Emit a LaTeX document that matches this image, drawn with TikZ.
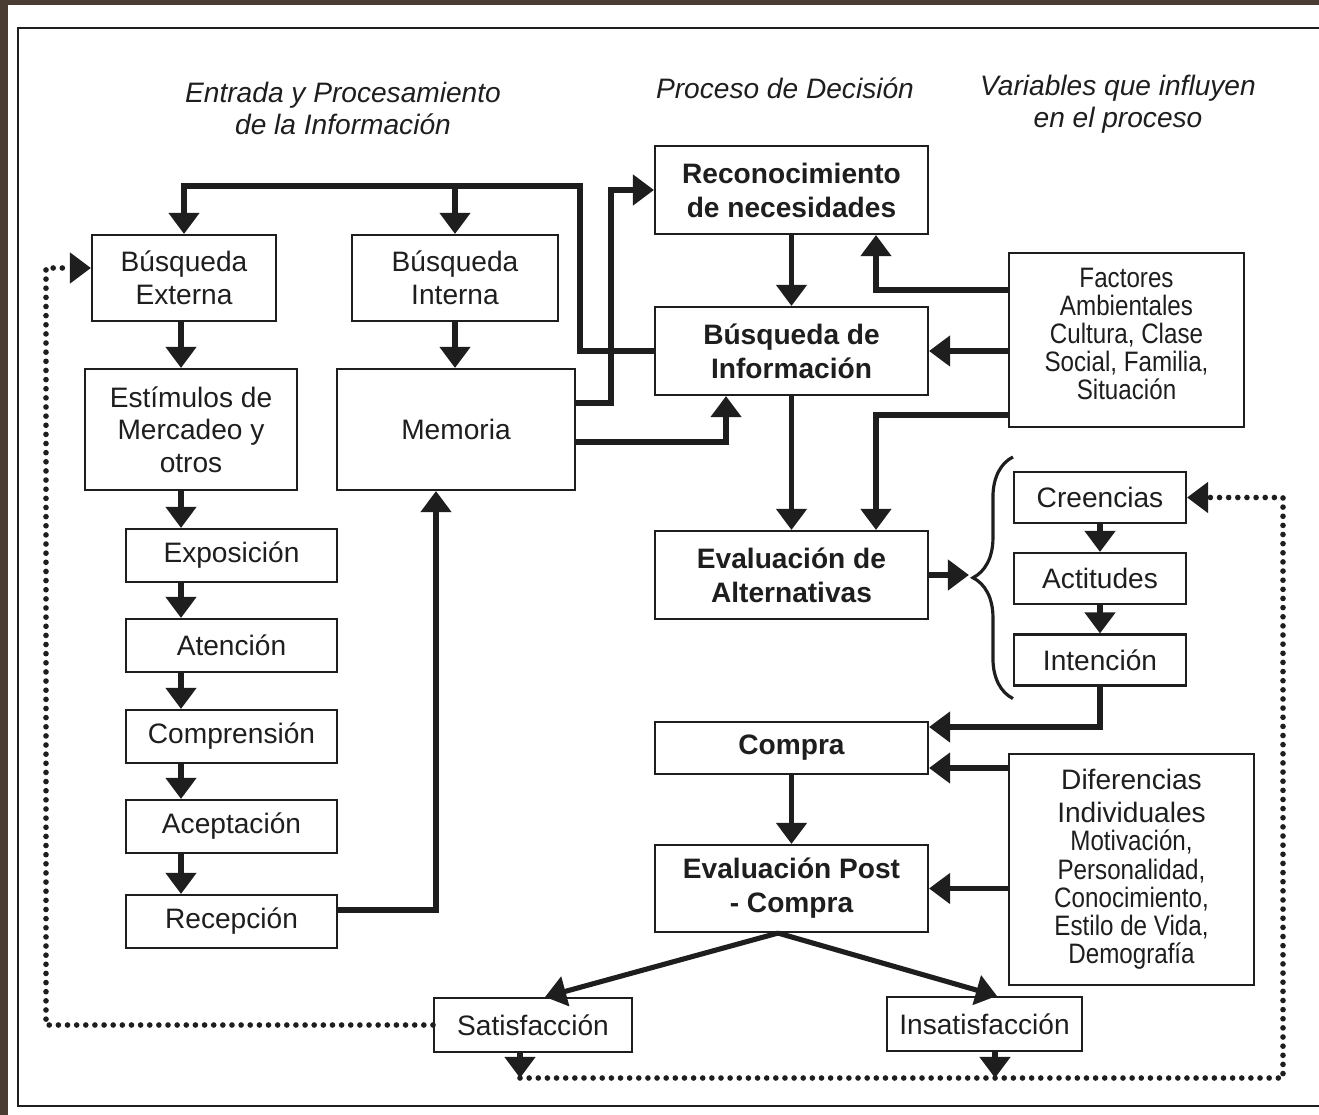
\documentclass[tikz,border=0pt]{standalone}
\usepackage{fontspec}
\setmainfont{Liberation Sans}
\newfontfamily\narrowfont{Liberation Sans}[FakeStretch=0.86]
\usetikzlibrary{arrows.meta,decorations.pathreplacing}
\definecolor{ink}{RGB}{30,30,30}
\definecolor{bark}{RGB}{74,60,50}

\begin{document}
\begin{tikzpicture}[x=0.02cm, y=-0.02cm,
        box/.style={draw=ink, line width=1.2pt, fill=white, align=center, inner sep=0pt,
            text=ink, font={\fontsize{16}{18.6}\selectfont}},
        bbox/.style={box, font={\fontsize{16}{19.3}\selectfont\bfseries}},
        heading/.style={align=center, text=ink, font={\fontsize{16}{18.2}\selectfont\itshape}},
        flow/.style={draw=ink, line width=2.9pt, -{Triangle[width=17pt, length=12pt]}},
        dotflow/.style={draw=ink, line width=3.2pt, line cap=round, dash pattern=on 0pt off 5.2pt,
            -{Triangle[width=17pt, length=12pt]}}]
    \useasboundingbox (0,0) rectangle (1319,1115);
    \fill[bark] (0,0) rectangle (1319,1115);
    \fill[white] (8,5) rectangle (1319,1115);
    \draw[ink, line width=1.5pt] (1319,28) -- (18,28) -- (18,1106) -- (1319,1106);

    \node[heading] (hentrada) at (343,108) {Entrada y Procesamiento\\de la Informaci\'on};
    \node[heading] (hproceso) at (785,88) {Proceso de Decisi\'on};
    \node[heading] (hvariables) at (1118,104) {Variables que influyen\\en el proceso};

    \node[box, minimum width=3.68cm, minimum height=1.72cm] (bext) at (184,278) {Búsqueda\\Externa};
    \node[box, minimum width=4.12cm, minimum height=1.72cm] (bint) at (455,278) {Búsqueda\\Interna};
    \node[box, minimum width=4.24cm, minimum height=2.42cm] (estim) at (191,429.5) {Estímulos de\\Mercadeo y\\otros};
    \node[box, minimum width=4.76cm, minimum height=2.42cm] (memoria) at (456,429.5) {Memoria};
    \node[box, minimum width=4.22cm, minimum height=1.06cm] (expo) at (231.5,555.5) {Exposición};
    \node[box, minimum width=4.22cm, minimum height=1.06cm] (atenc) at (231.5,645.5) {Atención};
    \node[box, minimum width=4.22cm, minimum height=1.06cm] (compr) at (231.5,736.5) {Comprensión};
    \node[box, minimum width=4.22cm, minimum height=1.06cm] (acept) at (231.5,826.5) {Aceptación};
    \node[box, minimum width=4.22cm, minimum height=1.06cm] (recep) at (231.5,921.5) {Recepción};

    \node[bbox, minimum width=5.46cm, minimum height=1.76cm] (recon) at (791.5,190) {Reconocimiento\\de necesidades};
    \node[bbox, minimum width=5.46cm, minimum height=1.76cm] (binfo) at (791.5,351) {Búsqueda de\\Información};
    \node[bbox, minimum width=5.46cm, minimum height=1.76cm] (evalalt) at (791.5,575) {Evaluación de\\Alternativas};
    \node[bbox, minimum width=5.46cm, minimum height=1.04cm] (compra) at (791.5,748) {Compra};
    \node[bbox, minimum width=5.46cm, minimum height=1.74cm] (evalpost) at (791.5,888.5) {Evaluación Post\\- Compra};

    \node[box, minimum width=4.7cm, minimum height=3.48cm, text depth=7pt, font={\narrowfont\fontsize{16}{15.9}\selectfont}]
        (factores) at (1126.5,340) {Factores\\Ambientales\\Cultura, Clase\\Social, Familia,\\Situación};
    \node[box, minimum width=3.44cm, minimum height=1.02cm] (creen) at (1100,497.5) {Creencias};
    \node[box, minimum width=3.44cm, minimum height=1.02cm] (actit) at (1100,578.5) {Actitudes};
    \node[box, minimum width=3.44cm, minimum height=1.02cm] (inten) at (1100,660) {Intención};
    \node[box, minimum width=4.9cm, minimum height=4.62cm, font={\fontsize{16}{16.1}\selectfont}]
        (difer) at (1131.5,869.5) {Diferencias\\[2.6pt]Individuales\\{\narrowfont Motivación,}\\{\narrowfont Personalidad,}\\{\narrowfont Conocimiento,}\\{\narrowfont Estilo de Vida,}\\{\narrowfont Demografía}};
    \node[box, minimum width=3.96cm, minimum height=1.08cm] (satis) at (533,1025) {Satisfacción};
    \node[box, minimum width=3.9cm, minimum height=1.08cm] (insat) at (984.5,1024) {Insatisfacción};

    \coordinate (topR) at (580,186);
    \coordinate (lcol) at (181,0);
    \coordinate (loopL) at (46,0);
    \coordinate (loopR) at (1283,0);
    \coordinate (loopB) at (0,1078);
    \path (creen.west |- evalalt.east) ++(-44,0) coordinate (bracetip);
    \path ([yshift=0.2cm]bext.west) coordinate (bextin);
    \path ([xshift=-0.26cm]satis.south) coordinate (satout);
    \path ([xshift=0.21cm]insat.south) coordinate (insout);
    \path ([yshift=-0.4cm]compra.east) coordinate (comprain);

    \draw[flow] (binfo.west) -| (topR) -| (bext.north);
    \draw[flow] (bint.north |- topR) -- (bint.north);
    \draw[flow] ([yshift=0.53cm]memoria.east) -- ++(35,0) |- (recon.west);
    \draw[flow] ([yshift=-0.25cm]memoria.east) -| ([xshift=-1.31cm]binfo.south);
    \draw[flow] (lcol |- bext.south) -- (lcol |- estim.north);
    \draw[flow] (lcol |- estim.south) -- (lcol |- expo.north);
    \draw[flow] (lcol |- expo.south) -- (lcol |- atenc.north);
    \draw[flow] (lcol |- atenc.south) -- (lcol |- compr.north);
    \draw[flow] (lcol |- compr.south) -- (lcol |- acept.north);
    \draw[flow] (lcol |- acept.south) -- (lcol |- recep.north);
    \draw[flow] (bint.south) -- (bint.south |- memoria.north);
    \draw[flow] ([yshift=0.23cm]recep.east) -| ([xshift=-0.4cm]memoria.south);

    \draw[flow] (recon.south) -- (binfo.north);
    \draw[flow] (binfo.south) -- (evalalt.north);
    \draw[flow] ([yshift=1cm]factores.west) -| ([xshift=1.69cm]recon.south);
    \draw[flow] (factores.west |- binfo.east) -- (binfo.east);
    \draw[flow] ([yshift=-1.5cm]factores.west) -| ([xshift=1.69cm]evalalt.north);
    \draw[flow] (evalalt.east) -- (bracetip);
    \draw[ink, line width=1.8pt, decorate, decoration={brace, amplitude=0.8cm}]
        ([yshift=-0.24cm]inten.south west) -- ([yshift=0.28cm]creen.north west);
    \draw[flow] (creen.south) -- (actit.north);
    \draw[flow] (actit.south) -- (inten.north);
    \draw[flow] (inten.south) |- ([yshift=0.42cm]compra.east);
    \draw[flow] (difer.west |- comprain) -- (comprain);
    \draw[flow] (compra.south) -- (evalpost.north);
    \draw[flow] (difer.west |- evalpost.east) -- (evalpost.east);
    \draw[flow] ([xshift=-0.27cm]evalpost.south) -- ([xshift=0.24cm]satis.north);
    \draw[flow] ([xshift=-0.27cm]evalpost.south) -- ([xshift=0.25cm]insat.north);

    \draw[dotflow] (satis.west) -| (loopL |- bextin) -- (bextin);
    \draw[flow] (satout) -- (satout |- loopB);
    \draw[flow] (insout) -- (insout |- loopB);
    \draw[dotflow] (satout |- loopB) -| (loopR |- creen.east) -- (creen.east);
\end{tikzpicture}
\end{document}
